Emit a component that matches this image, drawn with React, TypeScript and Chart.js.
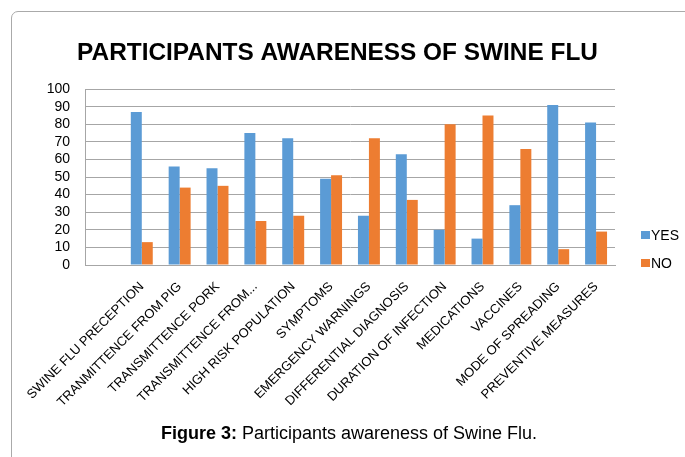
import React, { useEffect, useRef } from "react";
import { Chart, registerables } from "chart.js";

Chart.register(...registerables);

const categories: string[] = [
  "",
  "SWINE FLU PRECEPTION",
  "TRANMITTENCE FROM PIG",
  "TRANSMITTENCE PORK",
  "TRANSMITTENCE FROM...",
  "HIGH RISK POPULATION",
  "SYMPTOMS",
  "EMERGENCY WARNINGS",
  "DIFFERENTIAL DIAGNOSIS",
  "DURATION OF INFECTION",
  "MEDICATIONS",
  "VACCINES",
  "MODE OF SPREADING",
  "PREVENTIVE MEASURES",
];

const yesValues: (number | null)[] = [null, 87, 56, 55, 75, 72, 49, 28, 63, 20, 15, 34, 91, 81];
const noValues: (number | null)[] = [null, 13, 44, 45, 25, 28, 51, 72, 37, 80, 85, 66, 9, 19];

const seriesNames = ["YES", "NO"];
const seriesColors = ["#5B9BD5", "#ED7D31"];

const yTicks = [0, 10, 20, 30, 40, 50, 60, 70, 80, 90, 100];

const titleText = "PARTICIPANTS AWARENESS OF SWINE FLU";

const FONT = "'Liberation Sans', Arial, sans-serif";

export default function App() {
  const canvasRef = useRef<HTMLCanvasElement | null>(null);

  useEffect(() => {
    const canvas = canvasRef.current;
    if (!canvas) return;
    const chart = new Chart(canvas, {
      type: "bar",
      data: {
        labels: categories,
        datasets: [
          {
            label: seriesNames[0],
            data: yesValues,
            backgroundColor: seriesColors[0],
            categoryPercentage: 0.58,
            barPercentage: 1.0,
          },
          {
            label: seriesNames[1],
            data: noValues,
            backgroundColor: seriesColors[1],
            categoryPercentage: 0.58,
            barPercentage: 1.0,
          },
        ],
      },
      options: {
        animation: false,
        responsive: false,
        maintainAspectRatio: false,
        layout: { padding: { left: 0, right: 10, top: 0, bottom: 0 } },
        plugins: {
          legend: { display: false },
          tooltip: { enabled: false },
          title: {
            display: true,
            text: titleText,
            color: "#000",
            font: { family: FONT, size: 24.4, weight: "bold", lineHeight: 1.2 },
            padding: { top: 38.4, bottom: 21.4 },
          },
        },
        scales: {
          x: {
            offset: true,
            grid: { display: false, drawTicks: false },
            border: { display: true, color: "#a6a6a6", width: 1 },
            ticks: {
              autoSkip: false,
              minRotation: 45,
              maxRotation: 45,
              padding: 14,
              color: "#000",
              font: { family: FONT, size: 13 },
            },
            afterFit: (s: any) => {
              s.height = 192;
            },
          },
          y: {
            min: 0,
            max: 100,
            afterBuildTicks: (s: any) => {
              s.ticks = yTicks.map((v) => ({ value: v }));
            },
            grid: { color: "#a6a6a6", drawTicks: false, lineWidth: 1 },
            border: { display: true, color: "#a6a6a6", width: 1 },
            ticks: {
              autoSkip: false,
              stepSize: 10,
              padding: 15,
              color: "#000",
              font: { family: FONT, size: 14 },
            },
            afterFit: (s: any) => {
              s.width = 85;
            },
          },
          y2: {
            position: "right",
            display: true,
            grid: { display: false, drawTicks: false },
            border: { display: false },
            ticks: { display: false },
            afterFit: (s: any) => {
              s.width = 60;
            },
          },
        },
      },
    });
    return () => chart.destroy();
  }, []);

  return (
    <div
      style={{
        position: "fixed",
        left: 0,
        top: 0,
        width: 685,
        height: 457,
        background: "#fff",
        overflow: "hidden",
        fontFamily: FONT,
      }}
    >
      <div
        style={{
          position: "absolute",
          left: 11,
          top: 11,
          width: 760,
          height: 520,
          border: "1px solid #aaaaaa",
          borderRadius: 7,
          boxSizing: "border-box",
        }}
      />
      <canvas
        ref={canvasRef}
        width={685}
        height={457}
        style={{ position: "absolute", left: 0, top: 0, width: 685, height: 457 }}
      />
      {seriesNames.map((name, i) => (
        <div
          key={name}
          style={{
            position: "absolute",
            left: 641,
            top: 227 + i * 28,
            height: 16,
            display: "flex",
            alignItems: "center",
            fontSize: 14,
            color: "#000",
            lineHeight: "16px",
          }}
        >
          <span
            style={{
              display: "inline-block",
              width: 9,
              height: 8,
              background: seriesColors[i],
              marginRight: 1,
            }}
          />
          <span>{name}</span>
        </div>
      ))}
      <div
        style={{
          position: "absolute",
          left: 0,
          width: 698,
          top: 422,
          textAlign: "center",
          fontSize: 18,
          lineHeight: "22px",
          color: "#000",
          whiteSpace: "nowrap",
        }}
      >
        <b>Figure 3:</b> Participants awareness of Swine Flu.
      </div>
    </div>
  );
}
